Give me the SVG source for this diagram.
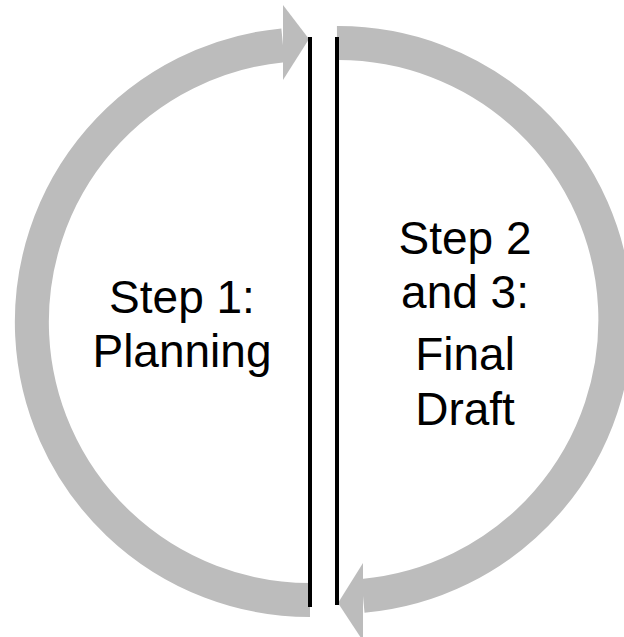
<svg xmlns="http://www.w3.org/2000/svg" width="624" height="637" viewBox="0 0 624 637">
<style>
.arc{fill:none;stroke:#BCBCBC;stroke-width:34}
.head{fill:#BCBCBC}
.bar{stroke:#000;stroke-width:4;fill:none}
.lbl{font-family:"Liberation Sans",Arial,sans-serif;font-size:46px;fill:#000;text-anchor:middle}
</style>
<rect width="624" height="637" fill="#fff"/>
<g id="step1">
<path class="arc" d="M 310 600 A 278 278 0 0 1 283 45.3"/>
<polygon class="head" points="283,5 309,39 283,80"/>
<text class="lbl" x="182" y="313">Step 1:</text>
<text class="lbl" x="182" y="367">Planning</text>
</g>
<g id="step2">
<path class="arc" d="M 337 43 A 277 277 0 0 1 363 595.9"/>
<polygon class="head" points="363,563 338,603 363,641"/>
<text class="lbl" x="465" y="254">Step 2</text>
<text class="lbl" x="465" y="308">and 3:</text>
<text class="lbl" x="465" y="370">Final</text>
<text class="lbl" x="465" y="425">Draft</text>
</g>
<g id="connectors">
<line class="bar" x1="310" y1="37" x2="310" y2="607"/>
<line class="bar" x1="337" y1="37" x2="337" y2="605"/>
</g>
</svg>
